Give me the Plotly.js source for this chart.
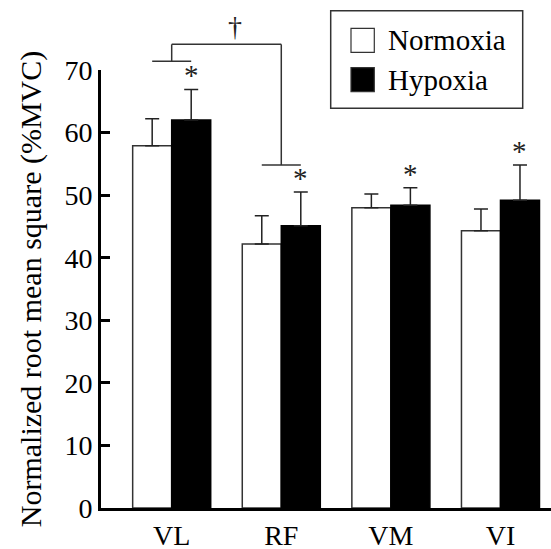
<!DOCTYPE html>
<html>
<head>
<meta charset="utf-8">
<script src="https://cdn.plot.ly/plotly-3.0.1.min.js"></script>
<style>html,body{margin:0;padding:0;background:#fff;}#chart{width:551px;height:549px;}</style>
</head>
<body>
<div id="chart"></div>
<script>
// ---- data ----
const muscles = ["VL", "RF", "VM", "VI"];
const seriesNames = ["Normoxia", "Hypoxia"];
const normoxia = [57.9, 42.2, 48.0, 44.3];
const normoxiaSD = [4.3, 4.5, 2.2, 3.5];
const hypoxia = [62.0, 45.1, 48.4, 49.2];
const hypoxiaSD = [4.9, 5.4, 2.8, 5.6];
const significantHypoxia = [true, true, true, true];
const yTicks = [0, 10, 20, 30, 40, 50, 60, 70];
// bracket: between VL and RF, with dagger
const bracketFrom = "VL", bracketTo = "RF";
const bracketLevels = [71.4, 74.1, 54.8]; // left foot, top, right foot (values in %MVC units)
const bracketMark = "†";

// ---- layout geometry ----
const W = 551, H = 549;
const M = {l: 101, r: 0, t: 70, b: 41};
const plotW = W - M.l - M.r, plotH = H - M.t - M.b;
const xRange = [-0.645, 3.461];
const yRange = [0, 70];
const bargap = 0.288;
const barHalf = (1 - bargap) / 4; // offset of each bar center from category center

const FONT = "Liberation Serif, Times New Roman, serif";
const xp = v => (v - xRange[0]) / (xRange[1] - xRange[0]); // data x -> paper
const yp = v => (v - yRange[0]) / (yRange[1] - yRange[0]); // data y -> paper
const pxX = p => (p - M.l) / plotW;      // pixel x -> paper
const pxY = p => (H - M.b - p) / plotH;  // pixel y -> paper

const traces = [
  {
    type: "bar", name: seriesNames[0], x: muscles, y: normoxia,
    marker: {color: "#ffffff", line: {color: "#333", width: 1.5}},
    error_y: {type: "data", symmetric: false, array: normoxiaSD, arrayminus: normoxiaSD.map(() => 0),
              color: "#222", thickness: 1.5, width: 7},
    showlegend: false
  },
  {
    type: "bar", name: seriesNames[1], x: muscles, y: hypoxia,
    marker: {color: "#000000", line: {color: "#000", width: 1.5}},
    error_y: {type: "data", symmetric: false, array: hypoxiaSD, arrayminus: hypoxiaSD.map(() => 0),
              color: "#222", thickness: 1.5, width: 7},
    showlegend: false
  }
];

const annotations = [];
const shapes = [];

// asterisks above hypoxia bars
hypoxia.forEach((v, i) => {
  if (!significantHypoxia[i]) return;
  annotations.push({
    x: i + barHalf, y: v + hypoxiaSD[i], xref: "x", yref: "y",
    text: "*", showarrow: false, yanchor: "bottom", yshift: -4,
    font: {family: FONT, size: 29, color: "#222"}
  });
});

// bracket
const i0 = muscles.indexOf(bracketFrom), i1 = muscles.indexOf(bracketTo);
const lineStyle = {color: "#333", width: 1.5};
function seg(x0, y0, x1, y1) {
  shapes.push({type: "line", xref: "paper", yref: "paper",
    x0: xp(x0), y0: yp(y0), x1: xp(x1), y1: yp(y1), line: lineStyle});
}
seg(i0 - barHalf, bracketLevels[0], i0 + barHalf, bracketLevels[0]);
seg(i0, bracketLevels[0], i0, bracketLevels[1]);
seg(i0, bracketLevels[1], i1, bracketLevels[1]);
seg(i1, bracketLevels[1], i1, bracketLevels[2]);
seg(i1 - barHalf, bracketLevels[2], i1 + barHalf, bracketLevels[2]);
annotations.push({
  x: xp((i0 + i1) / 2), y: yp(bracketLevels[1]), xref: "paper", yref: "paper",
  text: bracketMark, showarrow: false, yanchor: "bottom", yshift: 0,
  font: {family: FONT, size: 28, color: "#222"}
});

// manual legend
shapes.push({type: "rect", xref: "paper", yref: "paper",
  x0: pxX(330.7), x1: pxX(522.7), y0: pxY(108.3), y1: pxY(10.7),
  line: {color: "#333", width: 1.5}, fillcolor: "rgba(0,0,0,0)"});
const legendRows = [
  {name: seriesNames[0], fill: traces[0].marker.color, cy: 40.3},
  {name: seriesNames[1], fill: traces[1].marker.color, cy: 79.7}
];
legendRows.forEach(r => {
  shapes.push({type: "rect", xref: "paper", yref: "paper",
    x0: pxX(351), x1: pxX(374.3), y0: pxY(r.cy + 12), y1: pxY(r.cy - 12),
    line: {color: "#333", width: 1.2}, fillcolor: r.fill});
  annotations.push({x: pxX(386), y: pxY(r.cy), xref: "paper", yref: "paper",
    xanchor: "left", yanchor: "middle", showarrow: false, text: r.name,
    font: {family: FONT, size: 29, color: "#000"}});
});

const layout = {
  width: W, height: H,
  margin: M,
  paper_bgcolor: "#fff", plot_bgcolor: "#fff",
  barmode: "group", bargap: bargap, bargroupgap: 0,
  font: {family: FONT, color: "#000"},
  xaxis: {
    type: "category", range: xRange, showgrid: false, zeroline: false,
    showline: true, linecolor: "#000", linewidth: 3, ticks: "",
    tickfont: {family: FONT, size: 28, color: "#000"}
  },
  yaxis: {
    range: yRange, tickvals: yTicks, ticktext: yTicks.map(String),
    showgrid: false, zeroline: false, showline: true, linecolor: "#000", linewidth: 3,
    ticks: "inside", ticklen: 9, tickwidth: 3, tickcolor: "#000",
    tickfont: {family: FONT, size: 28, color: "#000"},
    title: {text: "Normalized root mean square (%MVC)", standoff: 14,
            font: {family: FONT, size: 30, color: "#000"}}
  },
  shapes: shapes,
  annotations: annotations,
  showlegend: false
};

Plotly.newPlot("chart", traces, layout, {displayModeBar: false, staticPlot: true});
</script>
</body>
</html>
